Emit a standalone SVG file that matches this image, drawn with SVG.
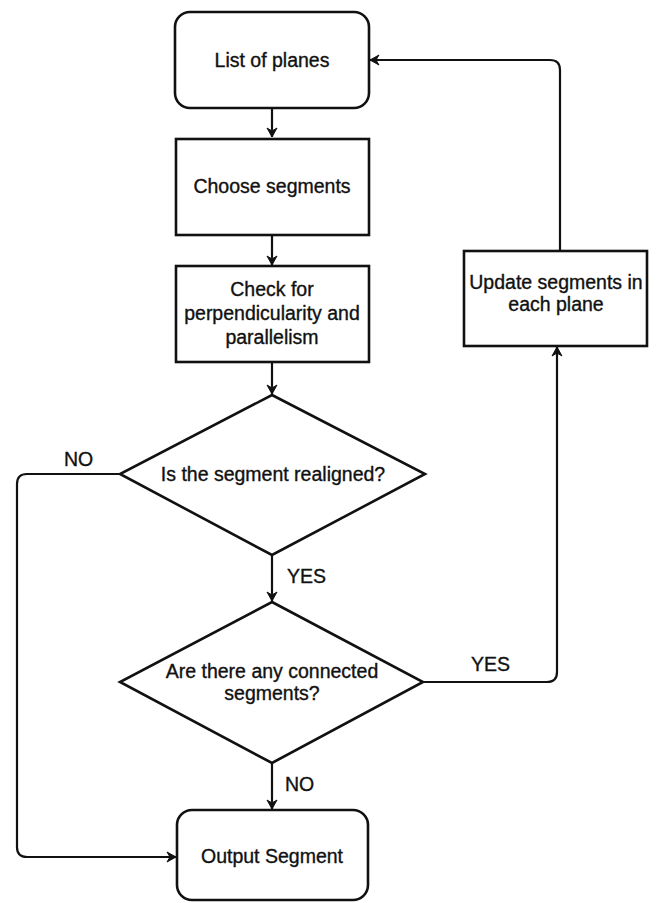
<svg xmlns="http://www.w3.org/2000/svg" width="658" height="903" viewBox="0 0 658 903">
<style>
.n{fill:#fff;stroke:#111;stroke-width:2.6}
.t{font-family:"Liberation Sans",Arial,sans-serif;font-size:19.5px;fill:#111;stroke:#111;stroke-width:0.35;text-anchor:middle}
.l{font-family:"Liberation Sans",Arial,sans-serif;font-size:19.5px;fill:#111;stroke:#111;stroke-width:0.35}
.c{fill:none;stroke:#111;stroke-width:2.2}
</style>
<defs>
<marker id="ah" markerWidth="12" markerHeight="12" refX="10" refY="6" orient="auto" markerUnits="userSpaceOnUse">
<path d="M1,1 L10,6 L1,11 L4,6 Z" fill="#111" stroke="#111" stroke-width="1"/>
</marker>
</defs>
<rect width="658" height="903" fill="#fff"/>
<g id="connectors">
<path class="c" d="M272,108 V137" marker-end="url(#ah)"/>
<path class="c" d="M272,235 V265" marker-end="url(#ah)"/>
<path class="c" d="M272,362 V394" marker-end="url(#ah)"/>
<path class="c" d="M272,555 V601" marker-end="url(#ah)"/>
<path class="c" d="M272,763 V809" marker-end="url(#ah)"/>
<path class="c" d="M120,474 H27 Q17,474 17,484 V847 Q17,857 27,857 H176" marker-end="url(#ah)"/>
<path class="c" d="M423,682 H547 Q557,682 557,672 V347" marker-end="url(#ah)"/>
<path class="c" d="M560,251 V70 Q560,60 550,60 H370" marker-end="url(#ah)"/>
<text class="l" x="64" y="466">NO</text>
<text class="l" x="287" y="583">YES</text>
<text class="l" x="471" y="671">YES</text>
<text class="l" x="285" y="791">NO</text>
</g>
<g id="list-of-planes">
<rect class="n" x="175" y="12" width="194" height="96" rx="15"/>
<text class="t" x="272" y="67">List of planes</text>
</g>
<g id="choose-segments">
<rect class="n" x="176" y="139" width="193" height="96"/>
<text class="t" x="272" y="193">Choose segments</text>
</g>
<g id="check">
<rect class="n" x="176" y="266" width="193" height="96"/>
<text class="t" x="272" y="296">Check for</text>
<text class="t" x="272" y="320">perpendicularity and</text>
<text class="t" x="272" y="344">parallelism</text>
</g>
<g id="realigned">
<polygon class="n" points="272,395 425,474 272,555 120,474"/>
<text class="t" x="273" y="481">Is the segment realigned?</text>
</g>
<g id="connected">
<polygon class="n" points="272,602 423,682 272,763 120,682"/>
<text class="t" x="272" y="678">Are there any connected</text>
<text class="t" x="272" y="700">segments?</text>
</g>
<g id="update">
<rect class="n" x="464" y="251" width="183" height="95"/>
<text class="t" x="556" y="289">Update segments in</text>
<text class="t" x="556" y="311">each plane</text>
</g>
<g id="output">
<rect class="n" x="177" y="810" width="191" height="90" rx="15"/>
<text class="t" x="272" y="863">Output Segment</text>
</g>
</svg>
